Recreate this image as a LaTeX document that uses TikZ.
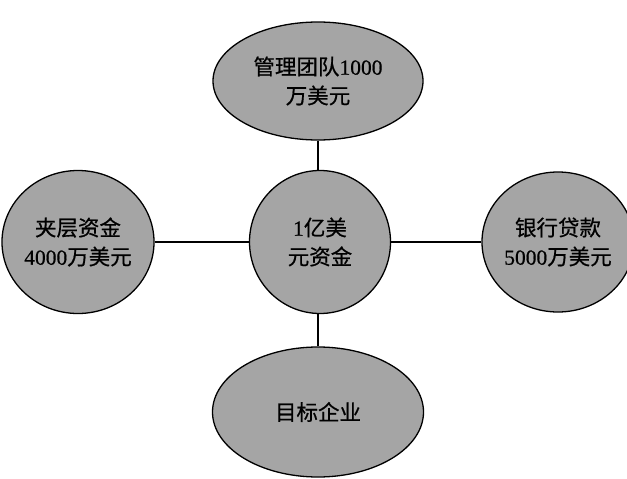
\documentclass[tikz,border=0pt]{standalone}
\usepackage{fontspec}
\setmainfont[FakeBold=0.6]{Liberation Serif}
\newfontfamily\cjk[FakeBold=0.6]{Noto Sans CJK SC}
\usetikzlibrary{shapes.geometric}
\definecolor{fillgray}{RGB}{165,165,165}
\begin{document}
\begin{tikzpicture}[x=1pt,y=-1pt,
  blob/.style={ellipse,draw=black,line width=1.3pt,fill=fillgray,inner sep=0pt,
    align=center,font=\fontsize{21.5}{29}\selectfont},
  link/.style={line width=1.1pt,draw=black}]
\useasboundingbox (0,0) rectangle (627,479);
\node[blob,minimum width=210pt,minimum height=118pt] (top) at (318,81) {{\cjk 管理团队}1000\\{\cjk 万美元}};
\node[blob,minimum width=141pt,minimum height=143pt] (center) at (320,242) {1{\cjk 亿美}\\{\cjk 元资金}};
\node[blob,minimum width=141pt,minimum height=143pt] (left) at (78,242) {{\cjk 夹层资金}\\4000{\cjk 万美元}};
\node[blob,minimum width=131pt,minimum height=140pt] (right) at (558,242) {{\cjk 银行贷款}\\5000{\cjk 万美元}};
\node[blob,minimum width=211pt,minimum height=130pt] (bottom) at (318,412) {{\cjk 目标企业}};
\draw[link] (top.south) -- (top.south |- center.north);
\draw[link] (bottom.north) -- (bottom.north |- center.south);
\draw[link] (left.east) -- (center.west);
\draw[link] (center.east) -- (right.west);
\end{tikzpicture}
\end{document}
